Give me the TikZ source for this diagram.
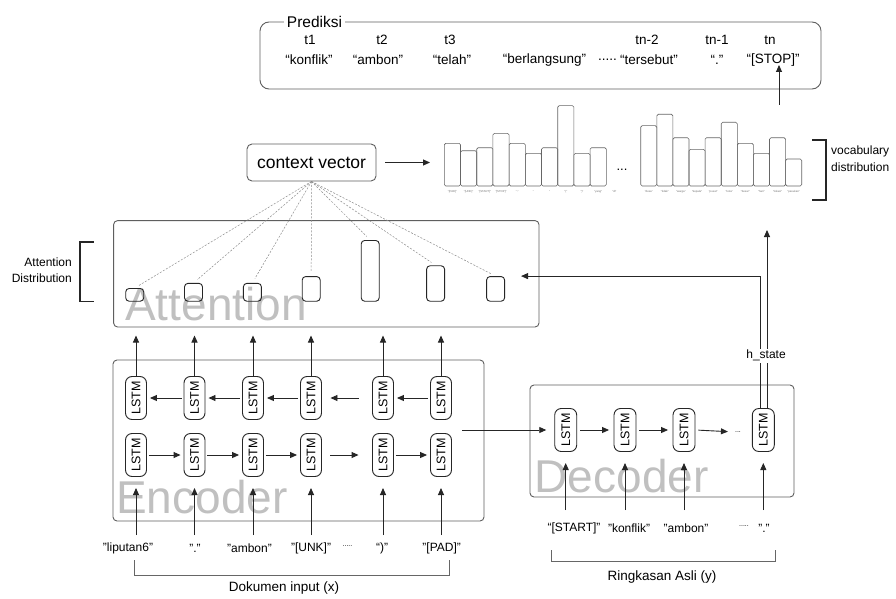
\documentclass[tikz,border=0pt]{standalone}
\usepackage{fontspec}
\setmainfont{Liberation Sans}
\usetikzlibrary{arrows.meta}
\definecolor{wmgray}{RGB}{192,192,192}
\definecolor{edge}{RGB}{95,95,95}
\begin{document}
\begin{tikzpicture}[x=1pt,y=-1pt,
  box/.style={draw=edge, line width=0.9pt, rounded corners=5pt},
  lstm/.style={draw=black!85, line width=0.9pt, rounded corners=6.5pt, minimum width=21pt, minimum height=43pt, inner sep=0pt, font=\fontsize{12.5}{13}\selectfont},
  arr/.style={-{Triangle[length=7pt,width=6pt]}, line width=0.9pt, black!85},
  abar/.style={draw=black!85, line width=0.9pt, rounded corners=3.5pt, minimum width=18pt, inner sep=0pt, anchor=south},
  vbar/.style={draw=black!60, line width=0.6pt, rounded corners=1.5pt},
  wm/.style={text=wmgray, font=\fontsize{46}{46}\selectfont, inner sep=0pt, anchor=base west},
  lbl/.style={font=\fontsize{12}{14}\selectfont, inner sep=1pt},
  plbl/.style={font=\fontsize{13.5}{15}\selectfont, inner sep=1pt},
  brk/.style={draw=black!60, line width=0.9pt},
  dsh/.style={draw=black!45, line width=0.5pt, dash pattern=on 2pt off 1.5pt, shorten >=5pt},
  vl/.style={font=\fontsize{2.8}{3}\selectfont, text=black!55, inner sep=0pt},
  dots/.style={font=\fontsize{7}{8}\selectfont, inner sep=0pt}
]
\fill[white] (0,0) rectangle (896,599);
\useasboundingbox (0,0) rectangle (896,599);

% ---------------- Prediksi ----------------
\node[box, rounded corners=9pt, minimum width=561pt, minimum height=67pt] (pred) at (540.5,55.5) {};
\node[fill=white, inner sep=3pt, font=\fontsize{15.5}{16}\selectfont] (predlbl) at (314.5,22) {Prediksi};
\node[plbl] (p1t) at (310,40) {t1};
\node[plbl] (p2t) at (382,40) {t2};
\node[plbl] (p3t) at (450,40) {t3};
\node[plbl] (pn2t) at (647,40) {tn-2};
\node[plbl] (pn1t) at (717,40) {tn-1};
\node[plbl] (pnt) at (770,40) {tn};
\node[plbl] (p1) at (309,60) {“konflik”};
\node[plbl] (p2) at (378,60) {“ambon”};
\node[plbl] (p3) at (452,60) {“telah”};
\node[plbl] (p4) at (544.5,60) {“berlangsung”};
\node[plbl] (pdots) at (607.5,60) {.....};
\node[plbl] (pn2) at (649,60) {“tersebut”};
\node[plbl] (pn1) at (717,60) {“.”};
\node[plbl] (pn) at (773,60) {“[STOP]”};
\coordinate (stopin) at (779,105);
\coordinate (stopup) at (0,65);
\draw[arr] (stopin) -- (stopin |- stopup);

% ---------------- context vector & vocabulary ----------------
\node[box, minimum width=129pt, minimum height=37pt, inner sep=0pt, font=\fontsize{17.5}{18}\selectfont] (ctx) at (311.5,162.5) {context vector};
\coordinate (c1) at (430,162.5);
\draw[arr] ([xshift=9pt]ctx.east) -- (c1);

\foreach \t [count=\i from 0] in {143.3,150.7,147.7,133.3,143.3,153.3,147.7,105.7,153.3,147.7}
  \draw[vbar] ({444.3+16.2*\i},186) rectangle ({444.3+16.2*(\i+1)},\t);
\foreach \w [count=\i from 0] in {"[PAD]","[UNK]","[START]","[STOP]",".",",","(",")","yang","di"}
  \node[vl] at ({452.4+16.2*\i},191.5) {\w};
\node[font=\fontsize{13}{14}\selectfont, inner sep=0pt] (vdots) at (622,170) {...};
\foreach \t [count=\i from 0] in {125.7,114.3,137.7,149.3,137.7,122.3,143.3,153.3,137.7,159}
  \draw[vbar] ({640.7+16.1*\i},186) rectangle ({640.7+16.1*(\i+1)},\t);
\foreach \w [count=\i from 0] in {"desa","tidak","warga","kepala","pusat","kota","besar","hari","lokasi","pasukan"}
  \node[vl] at ({648.75+16.1*\i},191.5) {\w};

\draw[line width=1.6pt, black!85] (812,140) -- (826,140) -- (826,200) -- (812,200);
\node[lbl, anchor=west, align=left, font=\fontsize{12}{17}\selectfont] (vocab) at (830,159) {vocabulary\\distribution};

% ---------------- Attention ----------------
\node[box, rounded corners=4pt, minimum width=425.4pt, minimum height=106.4pt] (att) at (326.3,273.8) {};
\node[wm] (attwm) at (125,320) {Attention};
\node[abar, minimum height=12.8pt] (a1) at (134.7,301.7) {};
\node[abar, minimum height=17.9pt] (a2) at (193.5,301.7) {};
\node[abar, minimum height=17.9pt] (a3) at (252.4,301.7) {};
\node[abar, minimum height=24.7pt] (a4) at (311.2,301.7) {};
\node[abar, minimum height=60.8pt] (a5) at (370.2,301.7) {};
\node[abar, minimum height=35.5pt] (a6) at (435.6,301.7) {};
\node[abar, minimum height=24.7pt] (a7) at (495.6,301.7) {};
\foreach \n in {1,...,7}
  \draw[dsh] (ctx.south) -- (a\n.north);

\draw[line width=1.4pt, black!85] (93.6,242) -- (80,242) -- (80,301.7) -- (93.6,301.7);
\node[lbl, anchor=east, align=right, font=\fontsize{12}{16}\selectfont] (attd) at (73,270) {Attention\\Distribution};

% ---------------- Encoder ----------------
\node[box, rounded corners=4pt, minimum width=371pt, minimum height=161pt] (enc) at (298.5,440.5) {};
\node[wm] (encwm) at (116,513) {Encoder};
\foreach \x [count=\n] in {136,194.5,253,311,383,441} {
  \node[lstm] (t\n) at (\x,398) {\rotatebox{90}{LSTM}};
  \node[lstm] (b\n) at (\x,455) {\rotatebox{90}{LSTM}};
}
\coordinate (atop) at (0,335.5);
\foreach \n in {1,...,6}
  \draw[arr] (t\n.north) -- (t\n.north |- atop);
\foreach \a/\b in {2/1,3/2,4/3,6/5}
  \draw[arr, shorten <=2pt, shorten >=3pt] (t\a.west) -- (t\b.east);
\draw[arr, shorten <=13.5pt, shorten >=8.5pt] (t5.west) -- (t4.east);
\foreach \a/\b in {1/2,2/3,3/4,5/6}
  \draw[arr, shorten <=2pt, shorten >=3pt] (b\a.east) -- (b\b.west);
\draw[arr, shorten <=8.5pt, shorten >=13.5pt] (b4.east) -- (b5.west);

\coordinate (inA) at (0,535);
\coordinate (inB) at (0,488);
\foreach \n in {1,...,6}
  \draw[arr] (b\n.south |- inA) -- (b\n.south |- inB);
\node[lbl] (w1) at (128,548) {"liputan6"};
\node[lbl] (w2) at (195,548) {"."};
\node[lbl] (w3) at (249.5,548) {"ambon"};
\node[lbl] (w4) at (311,548) {"[UNK]"};
\node[dots] (wdots) at (347.5,546) {.....};
\node[lbl] (w5) at (382,548) {“)”};
\node[lbl] (w6) at (441.7,548) {"[PAD]"};
\draw[brk] (134,560) -- (134,575) -- (449,575) -- (449,560);
\node[font=\fontsize{13.5}{15}\selectfont] (doklbl) at (284,588) {Dokumen input (x)};

% ---------------- Decoder ----------------
\node[box, rounded corners=4pt, minimum width=264pt, minimum height=112pt] (dec) at (662,441) {};
\node[wm] (decwm) at (534.5,492) {Decoder};
\node[lstm, minimum width=22pt] (d1) at (565.7,430) {\rotatebox{90}{LSTM}};
\node[lstm, minimum width=22pt] (d2) at (625,430) {\rotatebox{90}{LSTM}};
\node[lstm, minimum width=22pt] (d3) at (684,430) {\rotatebox{90}{LSTM}};
\node[lstm, minimum width=22pt] (d4) at (763.3,430) {\rotatebox{90}{LSTM}};
\node[dots] (ddots) at (738,432) {...};
\coordinate (encout) at (462,430);
\draw[arr, shorten >=8pt] (encout) -- (d1.west);
\draw[arr, shorten <=3pt, shorten >=4.5pt] (d1.east) -- (d2.west);
\draw[arr, shorten <=3pt, shorten >=4.5pt] (d2.east) -- (d3.west);
\draw[arr, shorten <=3pt, shorten >=7pt] (d3.east) -- (ddots.west);

\coordinate (dinA) at (0,510);
\coordinate (dinB) at (0,463);
\foreach \n in {1,...,4}
  \draw[arr] (d\n.south |- dinA) -- (d\n.south |- dinB);
\node[lbl] (y1) at (574,528) {“[START]"};
\node[lbl] (y2) at (629,528) {"konflik"};
\node[lbl] (y3) at (686,528) {"ambon"};
\node[dots] (ydots) at (744,526) {.....};
\node[lbl] (y4) at (764,528) {"."};
\draw[brk] (551.7,550) -- (551.7,561.7) -- (775,561.7) -- (775,550);
\node[font=\fontsize{13.5}{15}\selectfont] (rlbl) at (662,577) {Ringkasan Asli (y)};

% ---------------- h_state ----------------
\coordinate (vocin) at (767,230);
\draw[arr] ([xshift=-3.3pt]d4.north) |- ([xshift=16pt]a7.north east);
\draw[arr] ([xshift=3.7pt]d4.north) -- (vocin |- d4.north) -- (vocin);
\node[lbl, fill=white, inner sep=1.5pt] (hs) at (766,355.7) {h\_state};
\end{tikzpicture}
\end{document}
